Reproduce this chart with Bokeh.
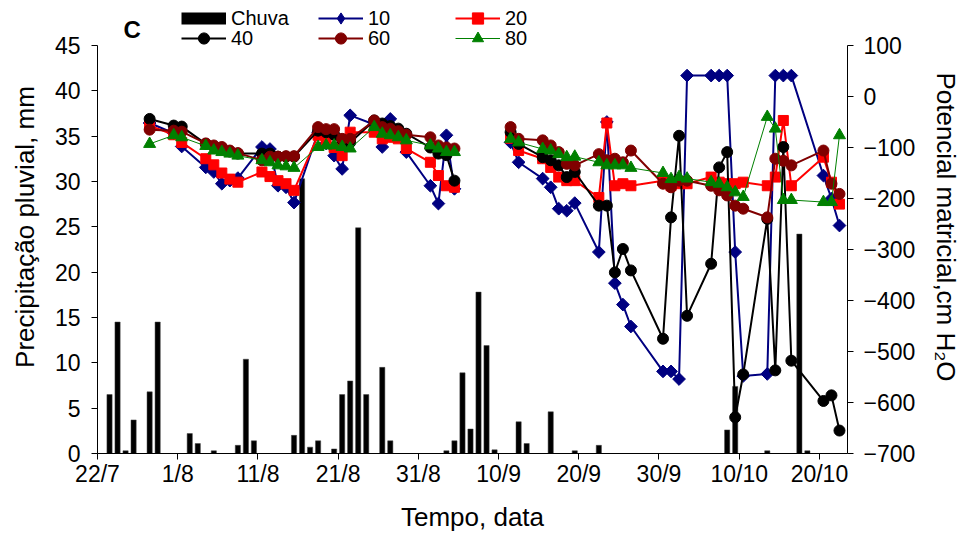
import math
from datetime import date
from bokeh.plotting import figure
from bokeh.models import Range1d, LinearAxis, FixedTicker, Legend, LegendItem, Label
from bokeh.embed import file_html
from bokeh.resources import INLINE

# ---------------- data ----------------
tick_labels = ["22/7", "1/8", "11/8", "21/8", "31/8", "10/9", "20/9", "30/9", "10/10", "20/10"]

rain_dates = ["23/7", "24/7", "25/7", "26/7", "28/7", "29/7", "2/8", "3/8", "5/8", "8/8",
              "9/8", "10/8", "15/8", "16/8", "17/8", "18/8", "20/8", "21/8", "22/8", "23/8",
              "24/8", "26/8", "27/8", "3/9", "4/9", "5/9", "6/9", "7/9", "8/9", "9/9",
              "12/9", "13/9", "16/9", "19/9", "22/9", "8/10", "9/10", "13/10", "17/10", "18/10"]
rain_mm = [6.5, 14.5, 0.3, 3.7, 6.8, 14.5, 2.2, 1.1, 0.3, 0.9,
           10.4, 1.4, 2.0, 30.3, 0.7, 1.4, 0.5, 6.5, 8.0, 24.9,
           6.5, 9.5, 1.4, 0.3, 1.4, 8.9, 2.7, 17.8, 11.9, 0.4,
           3.5, 1.1, 4.6, 0.3, 0.9, 2.6, 7.4, 0.3, 24.2, 0.3]

seg1_dates = ["28/7", "31/7", "1/8", "4/8", "5/8", "6/8", "7/8", "8/8", "11/8", "12/8",
              "13/8", "14/8", "15/8", "18/8", "19/8", "20/8", "21/8", "22/8", "25/8", "26/8",
              "27/8", "28/8", "29/8", "1/9", "2/9", "3/9", "4/9"]
seg2_dates = ["11/9", "12/9", "15/9", "16/9", "17/9", "18/9", "19/9", "22/9", "23/9", "24/9",
              "25/9", "26/9", "30/9", "1/10", "2/10", "3/10", "6/10", "7/10", "8/10", "9/10",
              "10/10", "13/10", "14/10", "15/10", "16/10", "20/10", "21/10", "22/10"]

p10_seg1 = [-52, -72, -98, -139, -148, -171, -165, -160, -99, -103, -175, -178, -208, -70, -92,
            -116, -142, -37, -55, -99, -44, -72, -109, -175, -210, -76, -181]
p20_seg1 = [-57, -75, -90, -122, -134, -150, -162, -168, -148, -157, -165, -171, -184, -76, -88,
            -100, -116, -70, -70, -83, -80, -83, -102, -129, -155, -175, -178]
p40_seg1 = [-44, -57, -59, -93, -98, -101, -108, -112, -112, -112, -118, -118, -118, -67, -70,
            -75, -85, -90, -47, -53, -58, -63, -73, -100, -112, -115, -165]
p60_seg1 = [-65, -67, -69, -92, -96, -99, -106, -111, -125, -118, -118, -117, -117, -60, -64,
            -64, -83, -83, -47, -60, -63, -68, -75, -80, -96, -100, -102]
p80_seg1 = [-93, -76, -80, -97, -106, -109, -112, -116, -125, -129, -135, -137, -140, -99, -96,
            -96, -99, -102, -60, -73, -76, -80, -86, -96, -102, -109, -109]

p10_seg2 = [-90, -129, -161, -178, -220, -224, -209, -305, -50, -366, -408, -451, -539, -539,
            -554, 41, 41, 41, 41, -305, -548, -544, 41, 41, 41, -155, -200, -253]
p20_seg2 = [-82, -106, -122, -139, -158, -165, -165, -198, -52, -175, -171, -175, -165, -175,
            -171, -171, -158, -168, -171, -171, -168, -175, -158, -47, -175, -119, -168, -211]
p40_seg2 = [-70, -93, -119, -125, -135, -158, -148, -214, -214, -345, -299, -341, -475, -237,
            -77, -430, -328, -139, -109, -629, -545, -240, -537, -99, -518, -597, -586, -655]
p60_seg2 = [-60, -83, -86, -96, -109, -132, -135, -113, -125, -122, -129, -106, -171, -178,
            -165, -165, -175, -184, -194, -214, -220, -237, -122, -126, -135, -106, -171, -191]
p80_seg2 = [-83, -90, -103, -106, -113, -119, -118, -129, -135, -135, -135, -140, -150, -162,
            -158, -161, -168, -171, -178, -188, -197, -40, -63, -203, -203, -207, -207, -76]


def day_index(s):
    d, m = map(int, s.split("/"))
    return (date(2000, m, d) - date(2000, 7, 22)).days


FONT = "Liberation Sans"

W, H = 965, 538
BORDER_L, BORDER_R, BORDER_B = 97, 118, 85
FRAME_H = H - BORDER_B          # frame reaches the top of the canvas (room for legend)
AXIS_H = 408                    # pixel height of the drawn axes (0..45 / -700..100)
rain_top = 45 * FRAME_H / AXIS_H
pot_top = -700 + 800 * FRAME_H / AXIS_H

p = figure(width=W, height=H, x_range=Range1d(0, 93.5), y_range=Range1d(0, rain_top),
           output_backend="svg", toolbar_location=None,
           min_border_left=BORDER_L, min_border_right=BORDER_R, min_border_top=0,
           min_border_bottom=BORDER_B)
p.extra_y_ranges = {"pot": Range1d(-700, pot_top)}
p.outline_line_color = None
p.xgrid.visible = False
p.ygrid.visible = False

# rain bars (mid-day)
rain_x = [day_index(s) + 0.5 for s in rain_dates]
bars = p.vbar(x=rain_x, top=rain_mm, width=0.65, fill_color="black", line_color="#444444",
              line_width=0.5)
# legend-only keys (they hold no visible data)
NO_X, NO_Y = [math.nan], [math.nan]
chuva_key = p.line(NO_X, NO_Y, line_color="black", line_width=12, line_cap="butt")
diamond_key = p.scatter(NO_X, NO_Y, marker="diamond", size=16, fill_color="#000080",
                        line_color="#000080")

seg1_x = [day_index(s) + 0.5 for s in seg1_dates]
seg2_x = [day_index(s) + 0.5 for s in seg2_dates]

series = [
    ("10", p10_seg1, p10_seg2, "#000080", 2, "square", 9, math.pi / 4),
    ("20", p20_seg1, p20_seg2, "#FF0000", 2, "square", 10, 0.0),
    ("40", p40_seg1, p40_seg2, "#000000", 2, "circle", 11, 0.0),
    ("60", p60_seg1, p60_seg2, "#800000", 2, "circle", 11, 0.0),
    ("80", p80_seg1, p80_seg2, "#008000", 1, "triangle", 12, 0.0),
]

items = [LegendItem(label="Chuva", renderers=[chuva_key])]
for name, s1, s2, col, lw, mk, sz, ang in series:
    rends = []
    for sx, sy in ((seg1_x, s1), (seg2_x, s2)):
        ln = p.line(sx, sy, line_color=col, line_width=lw, y_range_name="pot")
        sc = p.scatter(sx, sy, marker=mk, size=sz, angle=ang, fill_color=col, line_color=col,
                       y_range_name="pot")
        if not rends:
            rends = [ln, diamond_key] if name == "10" else [ln, sc]
    items.append(LegendItem(label=name, renderers=rends))

# axes
ticks = [day_index(t) for t in tick_labels]
xa = p.xaxis[0]
xa.ticker = FixedTicker(ticks=ticks)
xa.major_label_overrides = {k: t for k, t in zip(ticks, tick_labels)}
xa.axis_label = "Tempo, data"

ya = p.yaxis[0]
ya.ticker = FixedTicker(ticks=list(range(0, 46, 5)))
ya.bounds = (0, 45)
ya.axis_label = "Precipitação pluvial, mm"

ra = LinearAxis(y_range_name="pot", ticker=FixedTicker(ticks=list(range(-700, 101, 100))),
                bounds=(-700, 100), axis_label="Potencial matricial,cm H₂O")
p.add_layout(ra, "right")

for ax in [xa, ya, ra]:
    ax.axis_line_color = "black"
    ax.axis_line_width = 1
    ax.major_tick_line_color = "black"
    ax.major_tick_out = 6
    ax.major_tick_in = 0
    ax.minor_tick_line_color = None
    ax.major_label_text_font = FONT
    ax.major_label_text_font_size = "23px"
    ax.major_label_text_color = "black"
    ax.axis_label_text_font = FONT
    ax.axis_label_text_font_size = "26px"
    ax.axis_label_text_font_style = "normal"
    ax.axis_label_text_color = "black"

xa.major_label_standoff = 1
ya.major_label_standoff = 11
ra.major_label_standoff = 10
ya.axis_label_standoff = 12
ra.axis_label_standoff = 13
xa.axis_label_standoff = 12

GLYPH_H = 28
legend_kw = dict(orientation="horizontal", glyph_width=45, glyph_height=GLYPH_H,
                 label_width=87, label_standoff=5, spacing=0, padding=0, margin=0,
                 border_line_color=None, background_fill_alpha=0,
                 label_text_font=FONT, label_text_font_size="20px",
                 label_text_color="black")
row1 = Legend(items=items[:3], location=(84, FRAME_H - 4 - GLYPH_H), **legend_kw)
row2 = Legend(items=items[3:], location=(84, FRAME_H - 24 - GLYPH_H), **legend_kw)
p.add_layout(row1)
p.add_layout(row2)

p.add_layout(Label(x=26, y=FRAME_H - 29, x_units="screen", y_units="screen", text="C",
                   text_baseline="alphabetic", text_font=FONT, text_font_size="24px",
                   text_font_style="bold", text_color="black"))

open("out.html", "w").write(file_html(p, INLINE))
